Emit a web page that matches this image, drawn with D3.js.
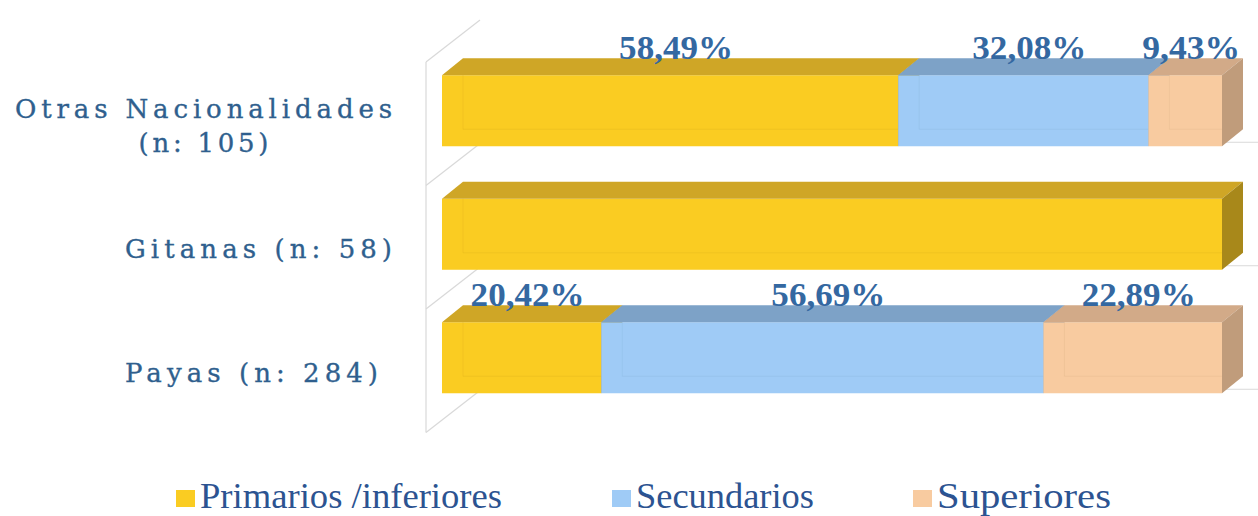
<!DOCTYPE html>
<html>
<head>
<meta charset="utf-8">
<script src="https://cdn.jsdelivr.net/npm/d3@7"></script>
<style>
  html, body { margin: 0; padding: 0; background: #ffffff; }
  svg { display: block; }
</style>
</head>
<body>
<svg id="chart" width="1258" height="516"></svg>
<script>
// ---- data ----
const categories = ["Otras Nacionalidades|(n: 105)", "Gitanas (n: 58)", "Payas (n: 284)"];
const seriesNames = ["Primarios /inferiores", "Secundarios", "Superiores"];
const primarios   = [58.49, 100, 20.42];
const secundarios = [32.08, 0, 56.69];
const superiores  = [9.43, 0, 22.89];
const labelTexts = [
  ["58,49%", "32,08%", "9,43%"],
  [null, null, null],
  ["20,42%", "56,69%", "22,89%"]
];

// ---- styles ----
const faceColors = [
  { front: "#FACC22", top: "#CFA626", side: "#A8881A", edge: "#E0B41C" },
  { front: "#9FCBF6", top: "#7DA2C7", side: "#6F93B6", edge: "#8DB7E0" },
  { front: "#F8CBA0", top: "#D2AA88", side: "#C09C7B", edge: "#E3B68D" }
];
const textBlue = "#2F5F8E";
const labelBlue = "#3468A1";
const catLineWidths = [[377, 130], [267], [253]];
const catRight = [392, 392, 378];

const svg = d3.select("#chart");

// geometry
const wallX = 426;
const depthDX = 21, depthDY = -17;   // bar depth
const frontDY = -13;                 // offset of bar front plane from wall front
const wallDX = 54, wallDY = -42;

const y = d3.scaleBand().domain(categories).range([62, 432.5])
  .paddingInner(0.425).paddingOuter(0.2125);
const x = d3.scaleLinear().domain([0, 100]).range([442, 1222]);

const rows = categories.map((c, i) => ({ i, cat: c, vals: [primarios[i], secundarios[i], superiores[i]], labels: labelTexts[i] }));

// ---- wall / grid ----
const grid = svg.append("g").attr("stroke", "#D9D9D9").attr("stroke-width", 1.2).attr("fill", "none");
const wallTop = y.range()[0], wallBottom = y.range()[1];
grid.append("line").attr("x1", wallX).attr("x2", wallX).attr("y1", wallTop).attr("y2", wallBottom);
for (let i = 0; i <= categories.length; i++) {
  const by = wallTop + i * y.step();
  grid.append("line").attr("x1", wallX).attr("y1", by).attr("x2", wallX + wallDX).attr("y2", by + wallDY);
}
// right side floor lines
rows.forEach(r => {
  const yb = y(r.cat) + frontDY + y.bandwidth() - 4;
  grid.append("line").attr("x1", x(100) + 3).attr("x2", 1258).attr("y1", yb).attr("y2", yb);
});

// ---- bars (3D boxes) ----
const barsG = svg.append("g");
rows.forEach(r => {
  let cum = 0;
  const y0 = y(r.cat) + frontDY;
  const y1 = y0 + y.bandwidth();
  r.vals.forEach((v, k) => {
    if (v <= 0) { return; }
    const x0 = x(cum), x1 = x(cum + v);
    cum += v;
    const c = faceColors[k];
    const g = barsG.append("g");
    g.append("rect").attr("x", x0).attr("y", y0).attr("width", x1 - x0).attr("height", y1 - y0).attr("fill", c.front);
    g.append("path")
      .attr("d", `M${x0 + depthDX},${y0} L${x0 + depthDX},${y1 + depthDY} L${x1},${y1 + depthDY}`)
      .attr("fill", "none").attr("stroke", c.edge).attr("stroke-width", 1).attr("opacity", 0.35);
    g.append("path")
      .attr("d", `M${x0},${y0} L${x0 + depthDX},${y0 + depthDY} L${x1 + depthDX},${y0 + depthDY} L${x1},${y0} Z`)
      .attr("fill", c.top);
    g.append("path")
      .attr("d", `M${x1},${y0} L${x1 + depthDX},${y0 + depthDY} L${x1 + depthDX},${y1 + depthDY} L${x1},${y1} Z`)
      .attr("fill", c.side);
  });
});

// ---- data labels ----
const labG = svg.append("g")
  .attr("font-family", "'Liberation Serif', 'Times New Roman', serif")
  .attr("font-weight", "bold").attr("font-size", 34).attr("fill", labelBlue)
  .attr("text-anchor", "middle");
rows.forEach(r => {
  let cum = 0;
  const y0 = y(r.cat) + frontDY;
  r.vals.forEach((v, k) => {
    const mid = cum + v / 2;
    cum += v;
    const t = r.labels[k];
    if (!t) return;
    let cx = x(mid) + 6;
    cx = Math.min(cx, 1258 - 52);
    labG.append("text").attr("x", cx).attr("y", y0 + depthDY + 1)
      .attr("textLength", t.length > 5 ? 114 : 98).attr("lengthAdjust", "spacingAndGlyphs")
      .text(t);
  });
});

// ---- category labels ----
const catG = svg.append("g")
  .attr("font-family", "'DejaVu Serif', serif")
  .attr("font-size", 26).attr("fill", textBlue)
  .attr("stroke", textBlue).attr("stroke-width", 0.35);
rows.forEach(r => {
  const cy = y(r.cat) - y.step() * 0.2125 + y.step() / 2 + 2;
  const lines = r.cat.split("|");
  const lh = 34;
  const widths = catLineWidths[r.i];
  if (lines.length === 2) {
    catG.append("text").attr("x", catRight[r.i]).attr("y", cy - lh / 2).attr("dy", "0.35em")
      .attr("text-anchor", "end").attr("textLength", widths[0]).attr("lengthAdjust", "spacing").text(lines[0]);
    catG.append("text").attr("x", catRight[r.i] - (widths[0] - widths[1]) / 2).attr("y", cy + lh / 2).attr("dy", "0.35em")
      .attr("text-anchor", "end").attr("textLength", widths[1]).attr("lengthAdjust", "spacing").text(lines[1]);
  } else {
    catG.append("text").attr("x", catRight[r.i]).attr("y", cy).attr("dy", "0.35em")
      .attr("text-anchor", "end").attr("textLength", widths[0]).attr("lengthAdjust", "spacing").text(lines[0]);
  }
});

// ---- legend ----
const legendX = [176, 612, 913];
const legendW = [302, 178, 174];
const legG = svg.append("g")
  .attr("font-family", "'Liberation Serif', 'Times New Roman', serif")
  .attr("font-size", 36).attr("fill", "#2C5391");
seriesNames.forEach((n, i) => {
  legG.append("rect").attr("x", legendX[i]).attr("y", 490).attr("width", 19).attr("height", 17)
    .attr("fill", faceColors[i].front);
  legG.append("text").attr("x", legendX[i] + 24).attr("y", 508)
    .attr("textLength", legendW[i]).attr("lengthAdjust", "spacingAndGlyphs")
    .text(n);
});
</script>
</body>
</html>
